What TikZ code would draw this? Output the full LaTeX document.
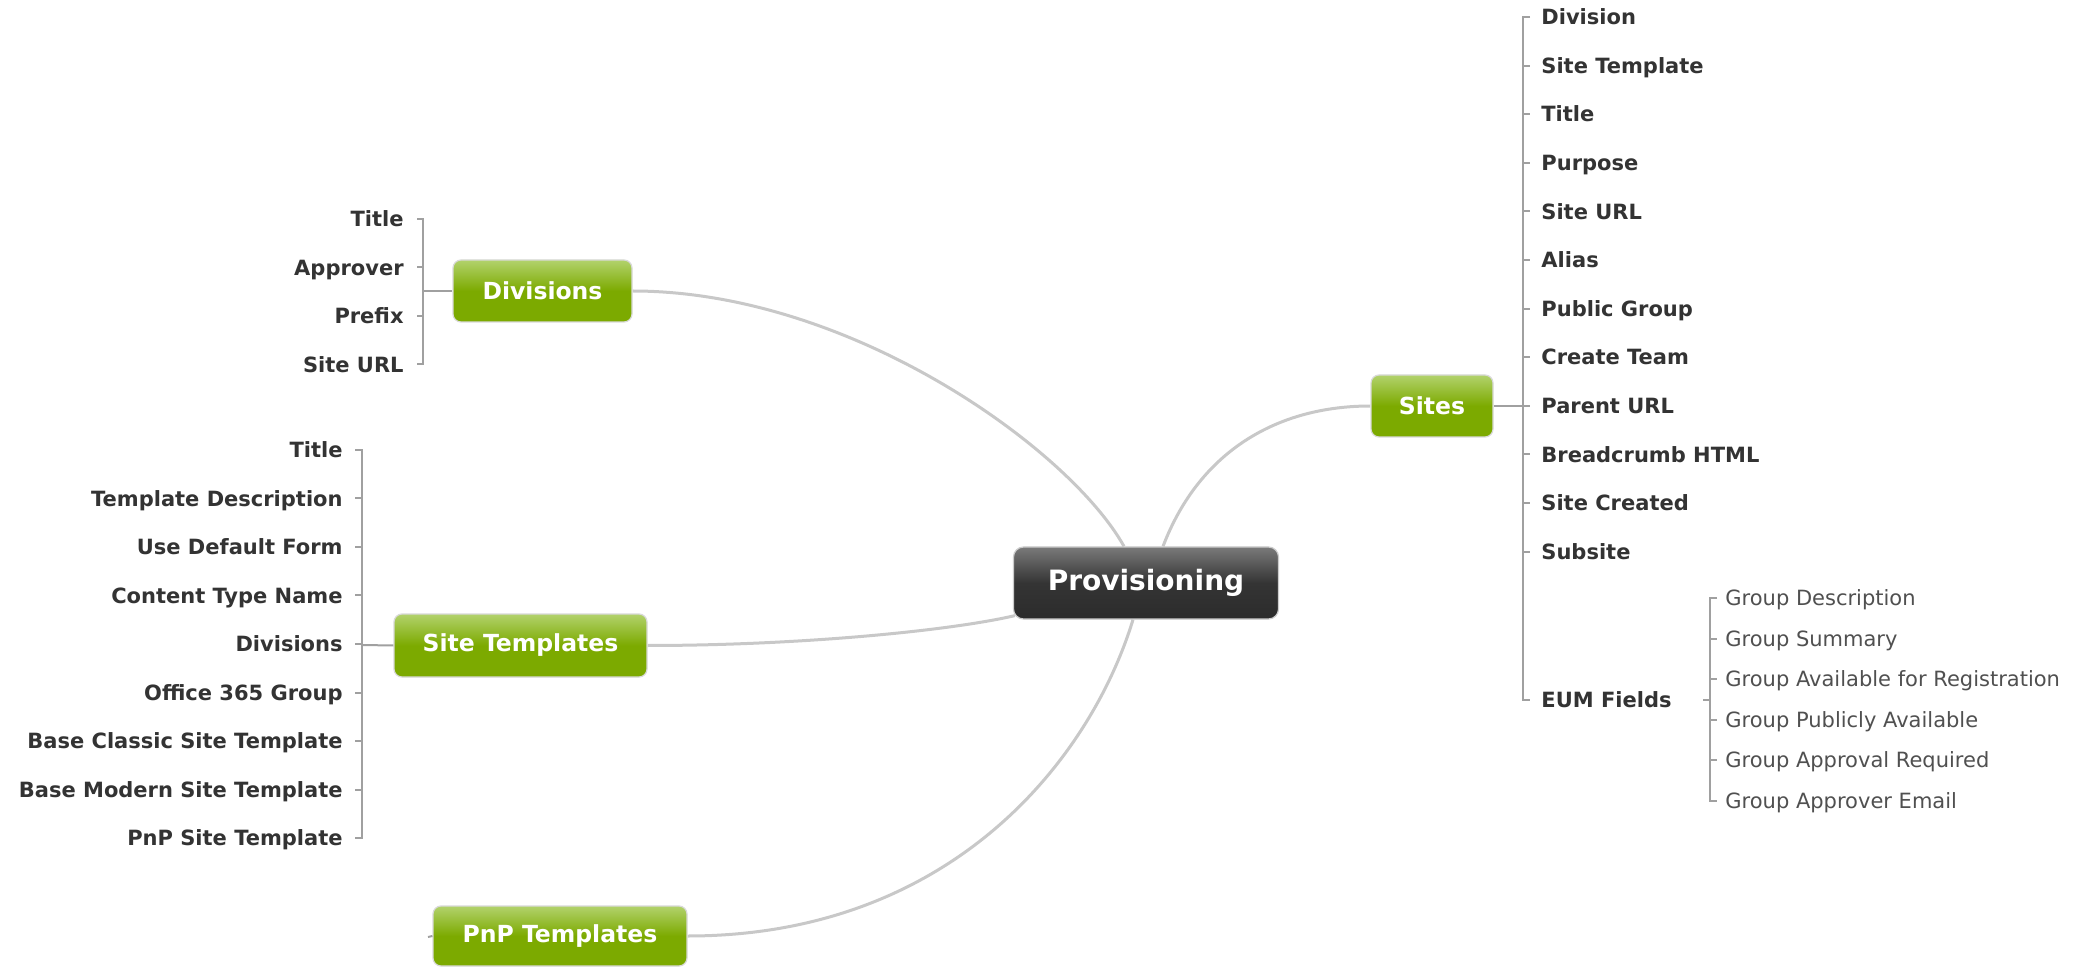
\documentclass[tikz,border=0pt]{standalone}
\usepackage{fontspec}
\setmainfont{DejaVu Sans}
\usetikzlibrary{calc}
\pgfdeclarelayer{bg}
\pgfsetlayers{bg,main}
\definecolor{gtop}{RGB}{178,210,108}
\definecolor{gbot}{RGB}{124,170,0}
\definecolor{dtop}{RGB}{122,122,122}
\definecolor{dmid}{RGB}{52,52,52}
\definecolor{dbot}{RGB}{44,44,44}
\definecolor{linkc}{RGB}{200,200,200}
\definecolor{brc}{RGB}{160,160,160}
\definecolor{txt}{RGB}{51,51,51}
\definecolor{gtxt}{RGB}{80,80,80}
\begin{document}
\begin{tikzpicture}[x=0.5pt,y=-0.5pt,
  greenbox/.style={rounded corners=4pt, draw=black!15, line width=0.6pt,
    top color=gtop, bottom color=gbot, middle color=gbot, text=white,
    font=\bfseries\fontsize{11.75}{14}\selectfont, inner sep=0pt, minimum height=31pt},
  darkbox/.style={rounded corners=5pt, draw=black!20, line width=0.6pt,
    top color=dtop, bottom color=dbot, middle color=dmid, text=white,
    font=\bfseries\fontsize{14}{16}\selectfont, inner sep=0pt,
    minimum width=132.5pt, minimum height=36pt},
  leaf/.style={inner sep=0pt, text=txt, font=\bfseries\fontsize{10.5}{12}\selectfont,
    text height=7.7pt, text depth=0pt},
  gleaf/.style={inner sep=0pt, text=gtxt, font=\fontsize{10.5}{12}\selectfont,
    text height=7.7pt, text depth=0pt},
  link/.style={draw=linkc, line width=1.5pt},
  br/.style={draw=brc, line width=1pt}
]
\begin{pgfonlayer}{bg}
\fill[white] (0,0) rectangle (2093,967);
\end{pgfonlayer}
\useasboundingbox (0,0) rectangle (2093,967);

% main nodes
\node[darkbox] (prov) at (1146,583) {Provisioning};
\node[greenbox, minimum width=61pt] (sites) at (1432,406) {Sites};
\node[greenbox, minimum width=89.5pt] (div) at (542.5,291) {Divisions};
\node[greenbox, minimum width=126.5pt, minimum height=31.5pt] (st) at (520.5,645.5) {Site Templates};
\node[greenbox, minimum width=127pt, minimum height=30pt] (pnp) at (560,936) {PnP Templates};

% curved links
\begin{pgfonlayer}{bg}
\draw[link] (div.east) .. controls +(218,0) and +(-54,-97) .. ([xshift=-11pt]prov.north);
\draw[link] ([xshift=8.5pt]prov.north) .. controls +(37,-97) and +(-91,0) .. (sites.west);
\draw[link] (st.east) .. controls +(153,0) and +(-64,15) .. ([xshift=1pt,yshift=2pt]prov.south west);
\draw[link] ([xshift=-6.5pt]prov.south) .. controls +(-43,141) and +(263,0) .. (pnp.east);
\end{pgfonlayer}

% Sites children
\foreach \t [count=\i from 0] in {Division, Site Template, Title, Purpose, Site URL, Alias,
  Public Group, Create Team, Parent URL, Breadcrumb HTML, Site Created, Subsite}
  \node[leaf, anchor=west] (s\i) at (1541,{17+48.6*\i}) {\t};
\node[leaf, anchor=west] (s12) at (1541,700) {EUM Fields};
\coordinate (sx) at (1523,406);
\draw[br] (sites.east) -- (sx);
\draw[br] ([xshift=-5.5pt]s0.west) -- (s0.west -| sx) -- (s12.west -| sx) -- ([xshift=-5.5pt]s12.west);
\foreach \i in {1,...,11} \draw[br] (s\i.west -| sx) -- ([xshift=-5.5pt]s\i.west);

% EUM group children
\foreach \t [count=\i from 0] in {Group Description, Group Summary, Group Available for Registration,
  Group Publicly Available, Group Approval Required, Group Approver Email}
  \node[gleaf, anchor=west] (g\i) at (1725,{598+40.5*\i}) {\t};
\coordinate (gx) at (1710,700);
\coordinate (gt) at (1703,700);
\draw[br] (gt) -- (gx);
\draw[br] ([xshift=-4pt]g0.west) -- (g0.west -| gx) -- (g5.west -| gx) -- ([xshift=-4pt]g5.west);
\foreach \i in {1,...,4} \draw[br] (g\i.west -| gx) -- ([xshift=-4pt]g\i.west);

% Divisions children
\foreach \t [count=\i from 0] in {Title, Approver, Prefix, Site URL}
  \node[leaf, anchor=east] (d\i) at (404,{219+48.5*\i}) {\t};
\coordinate (dx) at (423,291);
\draw[br] (dx) -- (div.west);
\draw[br] ([xshift=6.5pt]d0.east) -- (d0.east -| dx) -- (d3.east -| dx) -- ([xshift=6.5pt]d3.east);
\foreach \i in {1,2} \draw[br] (d\i.east -| dx) -- ([xshift=6.5pt]d\i.east);

% Site Templates children
\foreach \t [count=\i from 0] in {Title, Template Description, Use Default Form, Content Type Name,
  Divisions, Office 365 Group, Base Classic Site Template, Base Modern Site Template, PnP Site Template}
  \node[leaf, anchor=east] (t\i) at (343,{450+48.5*\i}) {\t};
\coordinate (tx) at (362,645);
\draw[br] (tx) -- (st.west);
\draw[br] ([xshift=6pt]t0.east) -- (t0.east -| tx) -- (t8.east -| tx) -- ([xshift=6pt]t8.east);
\foreach \i in {1,...,7} \draw[br] (t\i.east -| tx) -- ([xshift=6pt]t\i.east);

% PnP stub
\coordinate (pstub) at (428,937);
\draw[br] (pstub) -- (pnp.west);
\end{tikzpicture}
\end{document}
